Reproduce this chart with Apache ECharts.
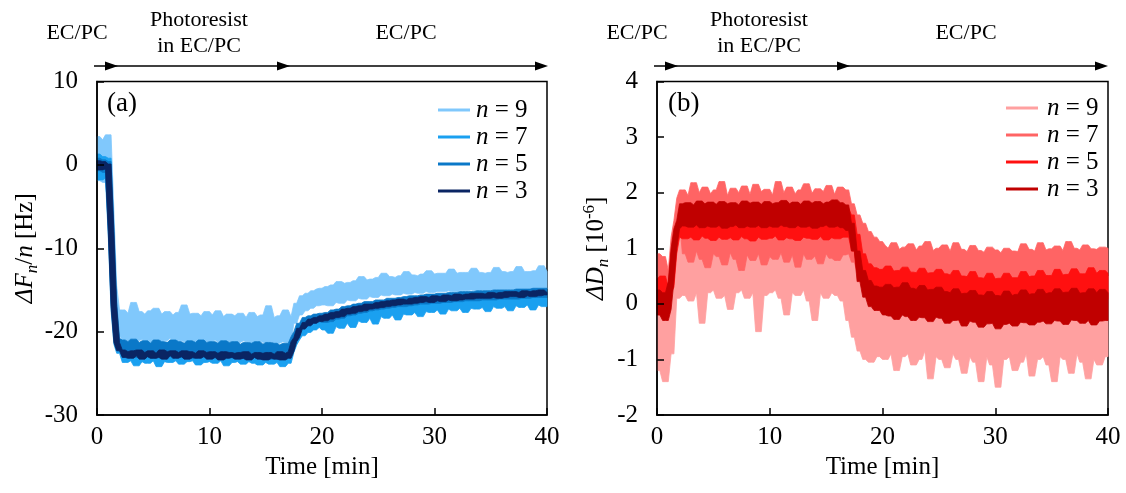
<!DOCTYPE html>
<html><head><meta charset="utf-8">
<script src="https://cdn.jsdelivr.net/npm/echarts@6/dist/echarts.min.js"></script>
<style>html,body{margin:0;padding:0;background:#fff}#c{width:1126px;height:493px}</style>
</head><body><div id="c"></div><script>
// sampling step of the traces [min]
const dt = 0.25;
const legendLabels = ['9', '7', '5', '3'];
const xTicks = [0, 10, 20, 30, 40];

// Panel (a): ΔF_n/n [Hz]
const a9 = [3.4,-1.9,3.0,-2.1,3.6,
-5.5,-14.5,-18.5,-20.5,
-17.4,-21.0,-17.8,-21.2,-16.5,-21.1,-17.6,-20.9,-17.9,-21.3,
-17.5,-21.0,-17.2,-21.2,-17.9,-21.1,-17.6,-20.8,-18.0,-21.3,
-17.7,-21.1,-16.8,-21.2,-17.9,-21.0,-17.8,-21.3,-18.1,-21.1,
-17.6,-21.2,-18.0,-21.0,-17.5,-21.3,-18.2,-21.1,-17.9,-21.2,
-18.1,-21.3,-17.8,-21.1,-18.3,-21.2,-17.7,-21.4,-18.2,-21.1,
-18.0,-21.3,-16.9,-21.2,-18.3,-21.4,-18.1,-21.2,-17.4,-21.3,
-18.2,-19.0,-16.6,-18.0,-15.7,-17.5,-15.4,-17.2,-15.1,-16.9,-14.9,
-14.8,-16.8,-14.6,-16.9,-14.4,-16.5,-14.0,-16.6,-14.2,-16.2,-14.1,-16.3,-13.9,-16.0,-13.4,-16.1,-13.8,-15.8,-13.7,-15.9,
-13.5,-15.6,-13.0,-15.7,-13.4,-15.5,-13.5,-15.6,-13.3,-15.4,-12.8,-15.5,-13.2,-15.3,-13.3,-15.4,-13.1,-15.2,-12.7,-15.3,
-13.1,-15.2,-13.0,-15.2,-13.0,-15.1,-12.5,-15.2,-13.0,-15.1,-12.9,-15.1,-12.9,-15.0,-12.4,-15.1,-12.9,-15.0,-13.0,-15.1,
-12.9,-15.0,-12.3,-15.0,-12.8,-15.0,-12.9,-15.0,-12.8,-14.9,-12.2,-15.0,-12.8,-14.9,-12.8,-15.0,-12.7,-14.9,-12.1,-14.9,
-12.8];
const a7 = [1.3,-1.8,1.0,-1.6,0.8,
-8.5,-17.5,-21.5,-22.6,
-21.4,-23.7,-21.6,-23.5,-21.3,-24.1,-21.5,-23.6,-21.7,-23.8,
-21.4,-23.5,-21.6,-24.2,-21.5,-23.6,-21.3,-23.7,-21.6,-23.5,
-21.5,-23.9,-21.4,-23.6,-21.7,-23.5,-21.5,-24.0,-21.6,-23.7,
-21.4,-23.6,-21.5,-23.8,-21.7,-23.5,-21.4,-24.1,-21.6,-23.7,
-21.5,-23.6,-21.7,-23.9,-21.5,-23.6,-21.6,-23.8,-21.4,-24.0,
-21.7,-23.7,-21.6,-23.9,-21.5,-23.7,-21.8,-24.2,-21.6,-23.8,
-22.5,-21.6,-21.0,-20.3,-20.5,-19.6,-20.1,-19.2,-19.8,-18.9,-19.5,
-18.0,-19.8,-18.1,-20.2,-17.6,-19.4,-17.5,-19.6,-17.2,-19.0,-17.3,-19.5,-16.9,-18.7,-16.8,-18.9,-16.6,-18.4,-16.6,-19.1,
-16.4,-18.2,-16.5,-18.4,-16.2,-18.0,-16.2,-18.6,-16.0,-17.9,-16.1,-18.0,-15.9,-17.7,-15.9,-18.2,-15.8,-17.6,-15.7,-17.7,
-15.7,-17.4,-15.6,-17.9,-15.6,-17.3,-15.5,-17.5,-15.5,-17.2,-15.4,-17.7,-15.4,-17.2,-15.4,-17.3,-15.3,-17.1,-15.3,-17.6,
-15.3,-17.0,-15.2,-17.2,-15.2,-17.0,-15.2,-17.5,-15.2,-16.9,-15.1,-17.1,-15.1,-16.8,-15.0,-17.4,-15.0,-16.8,-15.0,-17.0,
-16.0];
const a5 = [0.8,-0.7,0.6,-0.9,0.4,
-7.5,-16.5,-20.8,-21.8,
-21.0,-23.0,-21.2,-22.9,-20.9,-23.1,-21.3,-22.8,-21.1,-23.0,
-21.4,-23.2,-21.0,-22.9,-21.2,-23.1,-21.3,-22.8,-21.0,-23.0,
-21.2,-23.1,-21.4,-22.9,-21.1,-23.2,-21.3,-23.0,-21.0,-22.8,
-21.3,-23.1,-21.2,-23.0,-21.4,-23.2,-21.1,-22.9,-21.3,-23.1,
-21.2,-23.0,-21.5,-23.2,-21.3,-22.9,-21.4,-23.1,-21.2,-23.2,
-21.5,-23.0,-21.3,-23.3,-21.4,-23.1,-21.6,-23.2,-21.4,-23.0,
-21.8,-20.6,-20.0,-19.0,-19.4,-18.3,-19.2,-18.1,-19.0,-17.9,-18.7,
-17.8,-18.9,-17.7,-18.8,-17.4,-18.5,-17.3,-18.4,-17.0,-18.1,-16.9,-18.0,-16.7,-17.8,-16.6,-17.7,-16.4,-17.5,-16.4,-17.4,
-16.2,-17.3,-16.2,-17.2,-16.0,-17.1,-16.0,-17.0,-15.9,-17.0,-15.8,-16.9,-15.7,-16.8,-15.7,-16.7,-15.6,-16.7,-15.5,-16.6,
-15.5,-16.6,-15.4,-16.5,-15.4,-16.5,-15.3,-16.4,-15.3,-16.4,-15.2,-16.3,-15.2,-16.3,-15.2,-16.3,-15.1,-16.2,-15.1,-16.2,
-15.1,-16.2,-15.0,-16.1,-15.0,-16.1,-15.0,-16.1,-15.0,-16.1,-14.9,-16.0,-14.9,-16.0,-14.9,-15.9,-14.8,-15.9,-14.8,-15.9,
-14.8];
const a3 = [0.5,-0.6,0.4,-0.5,0.1,
-8.0,-17.0,-21.3,-22.3,
-22.2,-23.1,-22.4,-23.2,-22.3,-22.9,-22.2,-23.3,-22.5,-23.0,
-22.3,-23.2,-22.6,-23.1,-22.2,-23.3,-22.4,-22.9,-22.3,-23.2,
-22.5,-23.0,-22.3,-23.3,-22.4,-23.1,-22.6,-23.2,-22.3,-23.0,
-22.5,-23.3,-22.4,-23.1,-22.6,-23.4,-22.4,-23.2,-22.5,-23.1,
-22.6,-23.3,-22.5,-23.2,-22.4,-23.4,-22.7,-23.1,-22.5,-23.3,
-22.6,-23.4,-22.5,-23.2,-22.7,-23.3,-22.4,-23.4,-22.6,-23.2,
-22.4,-21.2,-20.7,-19.6,-19.7,-18.9,-19.3,-18.5,-19.0,-18.3,-18.8,
-18.1,-18.7,-17.9,-18.5,-17.7,-18.3,-17.6,-18.2,-17.3,-17.9,-17.2,-17.8,-17.0,-17.6,-16.9,-17.5,-16.7,-17.3,-16.7,-17.2,
-16.5,-17.1,-16.4,-17.0,-16.3,-16.9,-16.2,-16.8,-16.1,-16.7,-16.2,-16.7,-16.0,-16.6,-15.9,-16.5,-15.8,-16.4,-15.9,-16.5,
-15.7,-16.3,-15.8,-16.4,-15.6,-16.2,-15.7,-16.3,-15.5,-16.2,-15.6,-16.1,-15.5,-16.1,-15.4,-16.0,-15.4,-16.0,-15.5,-16.0,
-15.3,-15.9,-15.4,-16.0,-15.3,-15.9,-15.2,-15.8,-15.2,-15.8,-15.3,-15.9,-15.1,-15.7,-15.2,-15.8,-15.1,-15.7,-15.0,-15.6,
-15.3];

// Panel (b): ΔD_n [10^-6]
const b9 = [0.5,-1.2,0.4,-1.4,0.3,
-0.9,0.6,0.1,1.7,
1.8,0.15,1.7,0.05,1.75,0.2,1.8,-0.35,1.7,0.2,
1.8,0.25,1.75,0.1,1.8,0.15,1.7,-0.1,1.8,0.2,
1.75,0.25,1.8,0.1,1.7,0.2,1.8,-0.5,1.75,0.15,
1.8,0.2,1.7,0.25,1.8,0.1,1.75,-0.2,1.8,0.2,
1.7,0.15,1.8,0.25,1.75,0.05,1.8,-0.3,1.7,0.2,
1.8,0.1,1.75,0.2,1.8,0.15,1.7,0.05,
1.7,-0.3,1.3,-0.6,1.0,-0.85,0.7,-1.0,0.55,-1.05,0.5,-0.95,0.55,
0.55,-1.0,0.5,-0.9,0.55,-1.2,0.5,-0.95,0.55,-0.9,0.5,-1.1,0.55,-1.0,0.5,-0.85,0.55,-1.35,0.5,-0.95,
0.55,-1.0,0.5,-1.15,0.55,-0.9,0.5,-1.0,0.55,-1.25,0.5,-0.95,0.55,-1.05,0.5,-1.4,0.55,-0.95,0.5,-1.1,
0.55,-1.5,0.5,-1.0,0.55,-0.95,0.5,-1.2,0.55,-1.05,0.5,-0.9,0.55,-1.3,0.5,-1.0,0.55,-0.95,0.5,-1.1,
0.55,-1.4,0.5,-0.95,0.55,-1.0,0.5,-1.25,0.55,-0.9,0.5,-1.05,0.55,-1.35,0.5,-1.0,0.55,-1.1,0.5,-0.95,
0.5];
const b7 = [0.9,-0.2,0.85,-0.15,0.6,
0.6,1.2,1.5,1.9,
2.05,0.9,1.95,0.75,2.18,0.95,2.0,0.8,2.1,0.65,
1.98,0.9,2.05,0.85,2.2,0.7,1.95,0.92,2.08,0.8,
2.0,0.6,2.12,0.88,1.97,0.78,2.15,0.9,2.02,0.7,
2.06,0.85,1.96,0.8,2.2,0.92,2.0,0.75,2.1,0.88,
1.98,0.66,2.05,0.9,2.16,0.8,1.99,0.86,2.07,0.72,
2.02,0.9,2.13,0.82,1.97,0.78,2.1,0.88,
2.05,0.9,1.8,0.75,1.6,0.55,1.45,0.4,1.3,0.3,1.2,0.25,1.12,
1.05,0.25,1.0,0.22,1.1,0.2,0.98,0.24,1.02,0.2,1.08,0.18,0.97,0.22,1.04,0.19,1.12,0.18,0.96,0.2,
1.0,0.17,1.06,0.16,0.95,0.18,1.1,0.15,0.98,0.14,0.94,0.16,1.05,0.13,0.96,0.12,0.93,0.14,1.02,0.12,
0.97,0.11,0.92,0.13,1.0,0.12,0.95,0.14,0.94,0.15,1.08,0.13,0.98,0.16,0.95,0.15,1.1,0.17,0.97,0.16,
0.99,0.18,1.04,0.17,0.96,0.18,1.12,0.19,1.0,0.2,0.97,0.18,1.06,0.19,0.99,0.2,0.98,0.2,1.02,0.19,
1.0];
const b5 = [0.45,-0.1,0.5,-0.05,0.2,
0.3,0.9,1.2,1.35,
1.72,1.17,1.7,1.2,1.75,1.15,1.68,1.22,1.73,1.18,
1.7,1.14,1.74,1.2,1.69,1.16,1.72,1.19,1.76,1.15,
1.7,1.21,1.73,1.17,1.68,1.13,1.74,1.2,1.71,1.16,
1.75,1.18,1.7,1.22,1.73,1.15,1.69,1.19,1.74,1.17,
1.72,1.14,1.7,1.2,1.75,1.18,1.71,1.16,1.73,1.21,
1.69,1.15,1.74,1.19,1.72,1.17,1.76,1.2,
1.72,1.2,1.6,0.95,1.25,0.55,0.9,0.3,0.72,0.2,0.65,0.15,0.62,
0.6,0.14,0.68,0.13,0.59,0.13,0.6,0.12,0.66,0.12,0.57,0.11,0.56,0.1,0.64,0.09,0.55,0.08,0.56,0.07,
0.62,0.07,0.54,0.06,0.52,0.05,0.6,0.04,0.5,0.03,0.49,0.02,0.58,0.01,0.47,0.0,0.46,-0.01,0.55,0.0,
0.45,-0.01,0.46,0.0,0.55,0.01,0.47,0.0,0.47,0.02,0.58,0.01,0.49,0.03,0.5,0.03,0.6,0.04,0.51,0.04,
0.51,0.05,0.62,0.05,0.52,0.06,0.53,0.06,0.63,0.07,0.54,0.07,0.54,0.08,0.65,0.08,0.55,0.09,0.6,0.08,
0.55];
const b3 = [0.25,-0.2,0.2,-0.3,-0.1,
0.4,1.0,1.35,1.5,
1.8,1.4,1.82,1.38,1.78,1.42,1.85,1.37,1.8,1.4,
1.83,1.38,1.79,1.41,1.84,1.36,1.8,1.39,1.82,1.42,
1.78,1.37,1.85,1.4,1.81,1.38,1.83,1.41,1.79,1.37,
1.84,1.4,1.8,1.38,1.82,1.42,1.86,1.39,1.8,1.37,
1.83,1.41,1.79,1.38,1.85,1.4,1.81,1.36,1.84,1.39,
1.8,1.42,1.83,1.38,1.87,1.4,1.82,1.37,
1.78,1.32,1.45,0.95,0.95,0.4,0.6,0.12,0.42,-0.05,0.32,-0.12,0.28,
0.3,-0.2,0.35,-0.22,0.29,-0.28,0.3,-0.2,0.38,-0.23,0.28,-0.3,0.26,-0.24,0.33,-0.25,0.25,-0.32,0.26,-0.24,
0.3,-0.26,0.22,-0.35,0.2,-0.3,0.27,-0.29,0.18,-0.4,0.19,-0.31,0.24,-0.33,0.16,-0.42,0.15,-0.36,0.22,-0.35,
0.15,-0.45,0.14,-0.37,0.23,-0.35,0.15,-0.4,0.17,-0.33,0.25,-0.34,0.17,-0.38,0.18,-0.33,0.26,-0.31,0.18,-0.36,
0.2,-0.3,0.27,-0.31,0.2,-0.37,0.21,-0.29,0.28,-0.3,0.19,-0.35,0.2,-0.3,0.27,-0.38,0.2,-0.31,0.26,-0.3,
0.2];

const blues = ['#80c8fc', '#1aa0f0', '#0a78c8', '#0a2563'];
const reds = ['#ffa0a0', '#ff6464', '#ff1010', '#c00000'];
const F = '"Liberation Serif", "Times New Roman", serif';
const FS = 25;

const chart = echarts.init(document.getElementById('c'), null, {renderer: 'canvas'});

const baseTxt = {color: '#000', fontFamily: F, fontSize: FS};
function xAx(g) {
  return {gridIndex: g, type: 'value', min: 0, max: 40, interval: 10, z: 5,
    axisLine: {show: true, onZero: false, lineStyle: {color: '#000', width: 1.5}},
    axisTick: {show: true, inside: true, length: 7, lineStyle: {color: '#000', width: 1.5}},
    axisLabel: Object.assign({margin: 10}, baseTxt),
    splitLine: {show: false},
    name: 'Time [min]', nameLocation: 'middle', nameGap: 39, nameTextStyle: baseTxt};
}
const richName = {
  d: {fontStyle: 'italic', fontFamily: F, fontSize: FS, lineHeight: 31, color: '#000'},
  it: {fontStyle: 'italic', fontFamily: F, fontSize: FS, lineHeight: 31, color: '#000'},
  sub: {fontStyle: 'italic', fontFamily: F, fontSize: 17, lineHeight: 17, verticalAlign: 'bottom', color: '#000'},
  sup: {fontFamily: F, fontSize: 17, lineHeight: 17, verticalAlign: 'top', color: '#000'},
  r: {fontFamily: F, fontSize: FS, lineHeight: 31, color: '#000'}
};
function yAx(g, min, max, interval, name, gap) {
  return {gridIndex: g, type: 'value', min: min, max: max, interval: interval, z: 5,
    axisLine: {show: true, onZero: false, lineStyle: {color: '#000', width: 1.5}},
    axisTick: {show: true, inside: true, length: 7, lineStyle: {color: '#000', width: 1.5}},
    axisLabel: Object.assign({margin: 19}, baseTxt),
    splitLine: {show: false},
    name: name, nameLocation: 'middle', nameRotate: 90, nameGap: gap,
    nameTextStyle: Object.assign({rich: richName}, baseTxt)};
}
function legend(left, top, prefix, pad) {
  return {left: left, top: top, padding: 0, orient: 'vertical', itemGap: 2, itemWidth: 32, itemHeight: 3,
    icon: 'rect', selectedMode: false,
    data: legendLabels.map(l => prefix + l),
    formatter: n => '{i|n}{r| = ' + n.slice(1) + '}',
    textStyle: {color: '#000', fontFamily: F, fontSize: FS, lineHeight: 25,
      rich: {i: {fontStyle: 'italic', fontFamily: F, fontSize: FS, lineHeight: 25, padding: [0, 0, 0, pad]},
             r: {fontFamily: F, fontSize: FS, lineHeight: 25}}}};
}
// Each noisy trace is shown as the band it sweeps out: between the local
// minimum and maximum of neighbouring samples, drawn as one filled polygon.
function band(name, g, data, color, z) {
  const lo = data.map((v, i) => Math.min.apply(null, data.slice(Math.max(0, i - 1), i + 2)));
  const hi = data.map((v, i) => Math.max.apply(null, data.slice(Math.max(0, i - 1), i + 2)));
  const items = data.map((v, i) => [i * dt, lo[i], hi[i]]);
  return {name: name, type: 'custom', xAxisIndex: g, yAxisIndex: g, z: z, silent: true,
    color: color, itemStyle: {color: color}, data: items,
    encode: {x: 0, y: [1, 2]},
    renderItem: function (params, api) {
      if (params.dataIndex !== 0) return null;
      const pts = [];
      for (let i = 0; i < items.length; i++) pts.push(api.coord([items[i][0], items[i][2]]));
      for (let i = items.length - 1; i >= 0; i--) pts.push(api.coord([items[i][0], items[i][1]]));
      return {type: 'polygon', shape: {points: pts},
        style: {fill: color, stroke: color, lineWidth: 0.8, lineJoin: 'miter'}};
    }};
}

const aData = [a9, a7, a5, a3];
const bData = [b9, b7, b5, b3];
const series = [];
legendLabels.forEach((l, k) => series.push(band('a' + l, 0, aData[k], blues[k], 2 + k)));
legendLabels.forEach((l, k) => series.push(band('b' + l, 1, bData[k], reds[k], 2 + k)));

function txt(x, y, s, size, align) {
  const a = align || 'center';
  return {type: 'text', silent: true, z: 10, style: {x: x, y: y, text: s,
    font: size + 'px ' + F, fill: '#000', textAlign: a, align: a,
    textVerticalAlign: 'middle', verticalAlign: 'middle'}};
}
function arrowHead(tip, y) {
  return {type: 'polygon', silent: true, shape: {points: [[tip, y], [tip - 13, y - 4.5], [tip - 13, y + 4.5]]},
    style: {fill: '#000'}};
}
function hline(x1, x2, y) {
  return {type: 'line', silent: true, shape: {x1: x1, y1: y, x2: x2, y2: y}, style: {stroke: '#000', lineWidth: 1.5}};
}
const graphics = [];
[0, 560].forEach(off => {
  graphics.push(txt(77 + off, 33, 'EC/PC', 22));
  graphics.push(txt(199 + off, 20, 'Photoresist', 22));
  graphics.push(txt(199 + off, 46, 'in EC/PC', 22));
  graphics.push(txt(406 + off, 33, 'EC/PC', 22));
  graphics.push(hline(94 + off, 545 + off, 66));
  graphics.push(arrowHead(118 + off, 66));
  graphics.push(arrowHead(290 + off, 66));
  graphics.push(arrowHead(548 + off, 66));
});
graphics.push(txt(107, 104, '(a)', 27, 'left'));
graphics.push(txt(668, 104, '(b)', 27, 'left'));

chart.setOption({
  animation: false,
  backgroundColor: '#fff',
  grid: [
    {left: 97, top: 81.5, width: 450, height: 333.5, show: true, borderColor: '#000', borderWidth: 1.5, backgroundColor: 'rgba(0,0,0,0)'},
    {left: 657, top: 81.5, width: 451, height: 333.5, show: true, borderColor: '#000', borderWidth: 1.5, backgroundColor: 'rgba(0,0,0,0)'}
  ],
  xAxis: [xAx(0), xAx(1)],
  yAxis: [
    yAx(0, -30, 10, 10, '{d|Δ}{it|F}{sub|n}{r|/}{it|n}{r| [Hz]}', 55),
    yAx(1, -2, 4, 1, '{d|Δ}{it|D}{sub|n}{r| [10}{sup|-6}{r|]}', 45)
  ],
  legend: [legend(438, 97.5, 'a', 1), legend(1006, 95.5, 'b', 4)],
  series: series,
  graphic: graphics
});
</script></body></html>
